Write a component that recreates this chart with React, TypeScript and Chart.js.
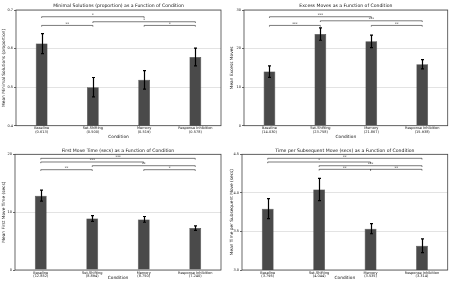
import React, { useEffect, useRef } from 'react';
import { Chart, registerables } from 'chart.js';
Chart.register(...registerables);

type Bracket = [number, number, number, string];

const conditions = ['Baseline', 'Set-Shifting', 'Memory', 'Response Inhibition'];

const minimalMeans = [0.613, 0.5, 0.519, 0.578];
const minimalErr = [0.026, 0.025, 0.024, 0.023];
const minimalBrackets: Bracket[] = [[0, 2, 0.6825, '*'], [1, 3, 0.6695, '*'], [0, 1, 0.66, '**'], [2, 3, 0.66, '*']];

const excessMeans = [14.03, 23.758, 21.867, 15.938];
const excessErr = [1.5, 1.6, 1.6, 1.2];
const excessBrackets: Bracket[] = [[0, 2, 28.25, '***'], [1, 3, 27.2, '***'], [0, 1, 26.0, '***'], [2, 3, 26.0, '**']];

const firstMeans = [12.852, 8.894, 8.75, 7.24];
const firstErr = [0.94, 0.5, 0.5, 0.4];
const firstBrackets: Bracket[] = [[0, 3, 19.3, '***'], [0, 2, 18.67, '***'], [1, 3, 18.03, '**'], [0, 1, 17.34, '**'], [2, 3, 17.34, '*']];

const subsMeans = [3.795, 4.044, 3.535, 3.314];
const subsErr = [0.13, 0.145, 0.065, 0.09];
const subsBrackets: Bracket[] = [[0, 3, 4.448, '**'], [0, 2, 4.4, '*'], [1, 3, 4.352, '***'], [1, 2, 4.305, '**'], [2, 3, 4.305, '**']];

const FONT = '"DejaVu Sans", sans-serif';

interface PanelCfg {
  title: string;
  yTitle: string;
  means: number[];
  err: number[];
  brackets: Bracket[];
  yMin: number;
  yMax: number;
  step: number;
  decimals: number;
  x: number; y: number; w: number; h: number;
  yw: number; xh: number; top: number; right: number; ytPad: number;
}

const panels: PanelCfg[] = [
  { title: 'Minimal Solutions (proportion) as a Function of Condition', yTitle: 'Mean Minimal Solutions (proportion)',
    means: minimalMeans, err: minimalErr, brackets: minimalBrackets, yMin: 0.4, yMax: 0.7, step: 0.1, decimals: 1,
    x: 0, y: 0, w: 226, h: 140, yw: 16, xh: 14.3, top: 10, right: 5, ytPad: 1.3 },
  { title: 'Excess Moves as a Function of Condition', yTitle: 'Mean Excess Moves',
    means: excessMeans, err: excessErr, brackets: excessBrackets, yMin: 0, yMax: 30, step: 10, decimals: 0,
    x: 226, y: 0, w: 226, h: 140, yw: 18, xh: 14.3, top: 10, right: 4.3, ytPad: 3.8 },
  { title: 'First Move Time (secs) as a Function of Condition', yTitle: 'Mean First Move Time (secs)',
    means: firstMeans, err: firstErr, brackets: firstBrackets, yMin: 0, yMax: 20, step: 10, decimals: 0,
    x: 0, y: 140, w: 226, h: 141, yw: 15, xh: 11, top: 14.3, right: 5, ytPad: 1.3 },
  { title: 'Time per Subsequent Move (secs) as a Function of Condition', yTitle: 'Mean Time per Subsequent Move (secs)',
    means: subsMeans, err: subsErr, brackets: subsBrackets, yMin: 3.0, yMax: 4.5, step: 0.5, decimals: 1,
    x: 226, y: 140, w: 226, h: 141, yw: 16, xh: 11, top: 14.3, right: 4.3, ytPad: 3.3 },
];

function makeDecor(cfg: PanelCfg) {
  return {
    id: 'decor',
    afterDatasetsDraw(chart: any) {
      const { ctx, chartArea: a, scales } = chart;
      const xs = scales.x, ys = scales.y;
      ctx.save();
      // error bars
      ctx.strokeStyle = '#000';
      ctx.lineWidth = 1.2;
      cfg.means.forEach((m, i) => {
        const cx = Math.round(xs.getPixelForValue(i)) + 0.5;
        const t = ys.getPixelForValue(m + cfg.err[i]);
        const b = ys.getPixelForValue(m - cfg.err[i]);
        ctx.beginPath();
        ctx.moveTo(cx, t); ctx.lineTo(cx, b);
        ctx.moveTo(cx - 1.5, t); ctx.lineTo(cx + 1.5, t);
        ctx.moveTo(cx - 1.5, b); ctx.lineTo(cx + 1.5, b);
        ctx.stroke();
      });
      // frame
      ctx.strokeStyle = '#444';
      ctx.lineWidth = 0.8;
      ctx.strokeRect(a.left, a.top, a.right - a.left, a.bottom - a.top);
      // brackets
      ctx.strokeStyle = '#222';
      ctx.fillStyle = '#222';
      ctx.lineWidth = 0.6;
      ctx.font = `3.5px ${FONT}`;
      ctx.textAlign = 'center';
      ctx.textBaseline = 'bottom';
      cfg.brackets.forEach(([i, j, lvl, lab]) => {
        const x1 = xs.getPixelForValue(i);
        const x2 = xs.getPixelForValue(j);
        const yy = ys.getPixelForValue(lvl);
        ctx.beginPath();
        ctx.moveTo(x1, yy + 1.2); ctx.lineTo(x1, yy); ctx.lineTo(x2, yy); ctx.lineTo(x2, yy + 1.2);
        ctx.stroke();
        ctx.fillText(lab, (x1 + x2) / 2, yy + 0.3);
      });
      // title
      ctx.fillStyle = '#111';
      ctx.font = `4.6px ${FONT}`;
      ctx.textBaseline = 'middle';
      ctx.fillText(cfg.title, (a.left + a.right) / 2, a.top - 4);
      ctx.restore();
    },
  };
}

function Panel({ cfg }: { cfg: PanelCfg }) {
  const ref = useRef<HTMLCanvasElement>(null);
  useEffect(() => {
    const labels = conditions.map((c, i) => [c, `(${cfg.means[i].toFixed(3)})`]);
    const chart = new Chart(ref.current!, {
      type: 'bar',
      data: {
        labels,
        datasets: [{
          data: cfg.means,
          backgroundColor: '#4a4a4a',
          borderColor: '#2a2a2a',
          borderWidth: 0.5,
          barPercentage: 0.23,
          categoryPercentage: 1,
        }],
      },
      options: {
        responsive: false,
        animation: false,
        layout: { padding: { top: cfg.top, right: cfg.right, left: 0, bottom: 0 } },
        plugins: { legend: { display: false }, tooltip: { enabled: false }, title: { display: false } },
        scales: {
          x: {
            type: 'category',
            grid: { display: false, drawTicks: false },
            border: { display: false },
            ticks: { font: { size: 3.5, family: FONT, lineHeight: 1 }, color: '#111', padding: 1, maxRotation: 0, autoSkip: false },
            title: { display: true, text: 'Condition', font: { size: 4.3, family: FONT, lineHeight: 1.2 }, color: '#111', padding: { top: 0, bottom: 0.5 } },
            afterFit: (s: any) => { s.height = cfg.xh; },
          },
          y: {
            min: cfg.yMin,
            max: cfg.yMax,
            grid: { color: '#dcdcdc', lineWidth: 0.8, tickLength: 2, tickColor: '#444' },
            border: { display: false },
            ticks: {
              stepSize: cfg.step,
              font: { size: 3.5, family: FONT },
              color: '#111',
              padding: 1,
              callback: (v: any) => Number(v).toFixed(cfg.decimals),
            },
            title: { display: true, text: cfg.yTitle, font: { size: 4.3, family: FONT, lineHeight: 1.2 }, color: '#111', padding: { top: cfg.ytPad, bottom: 0 } },
            afterFit: (s: any) => { s.width = cfg.yw; },
          },
        },
      },
      plugins: [makeDecor(cfg)],
    } as any);
    return () => chart.destroy();
  }, [cfg]);
  return (
    <canvas ref={ref} width={cfg.w} height={cfg.h}
      style={{ position: 'absolute', left: cfg.x, top: cfg.y, width: cfg.w, height: cfg.h }} />
  );
}

export default function App() {
  return (
    <div style={{ position: 'absolute', left: 0, top: 0, width: 452, height: 281, background: '#fff', overflow: 'hidden' }}>
      {panels.map((p, i) => <Panel key={i} cfg={p} />)}
    </div>
  );
}
